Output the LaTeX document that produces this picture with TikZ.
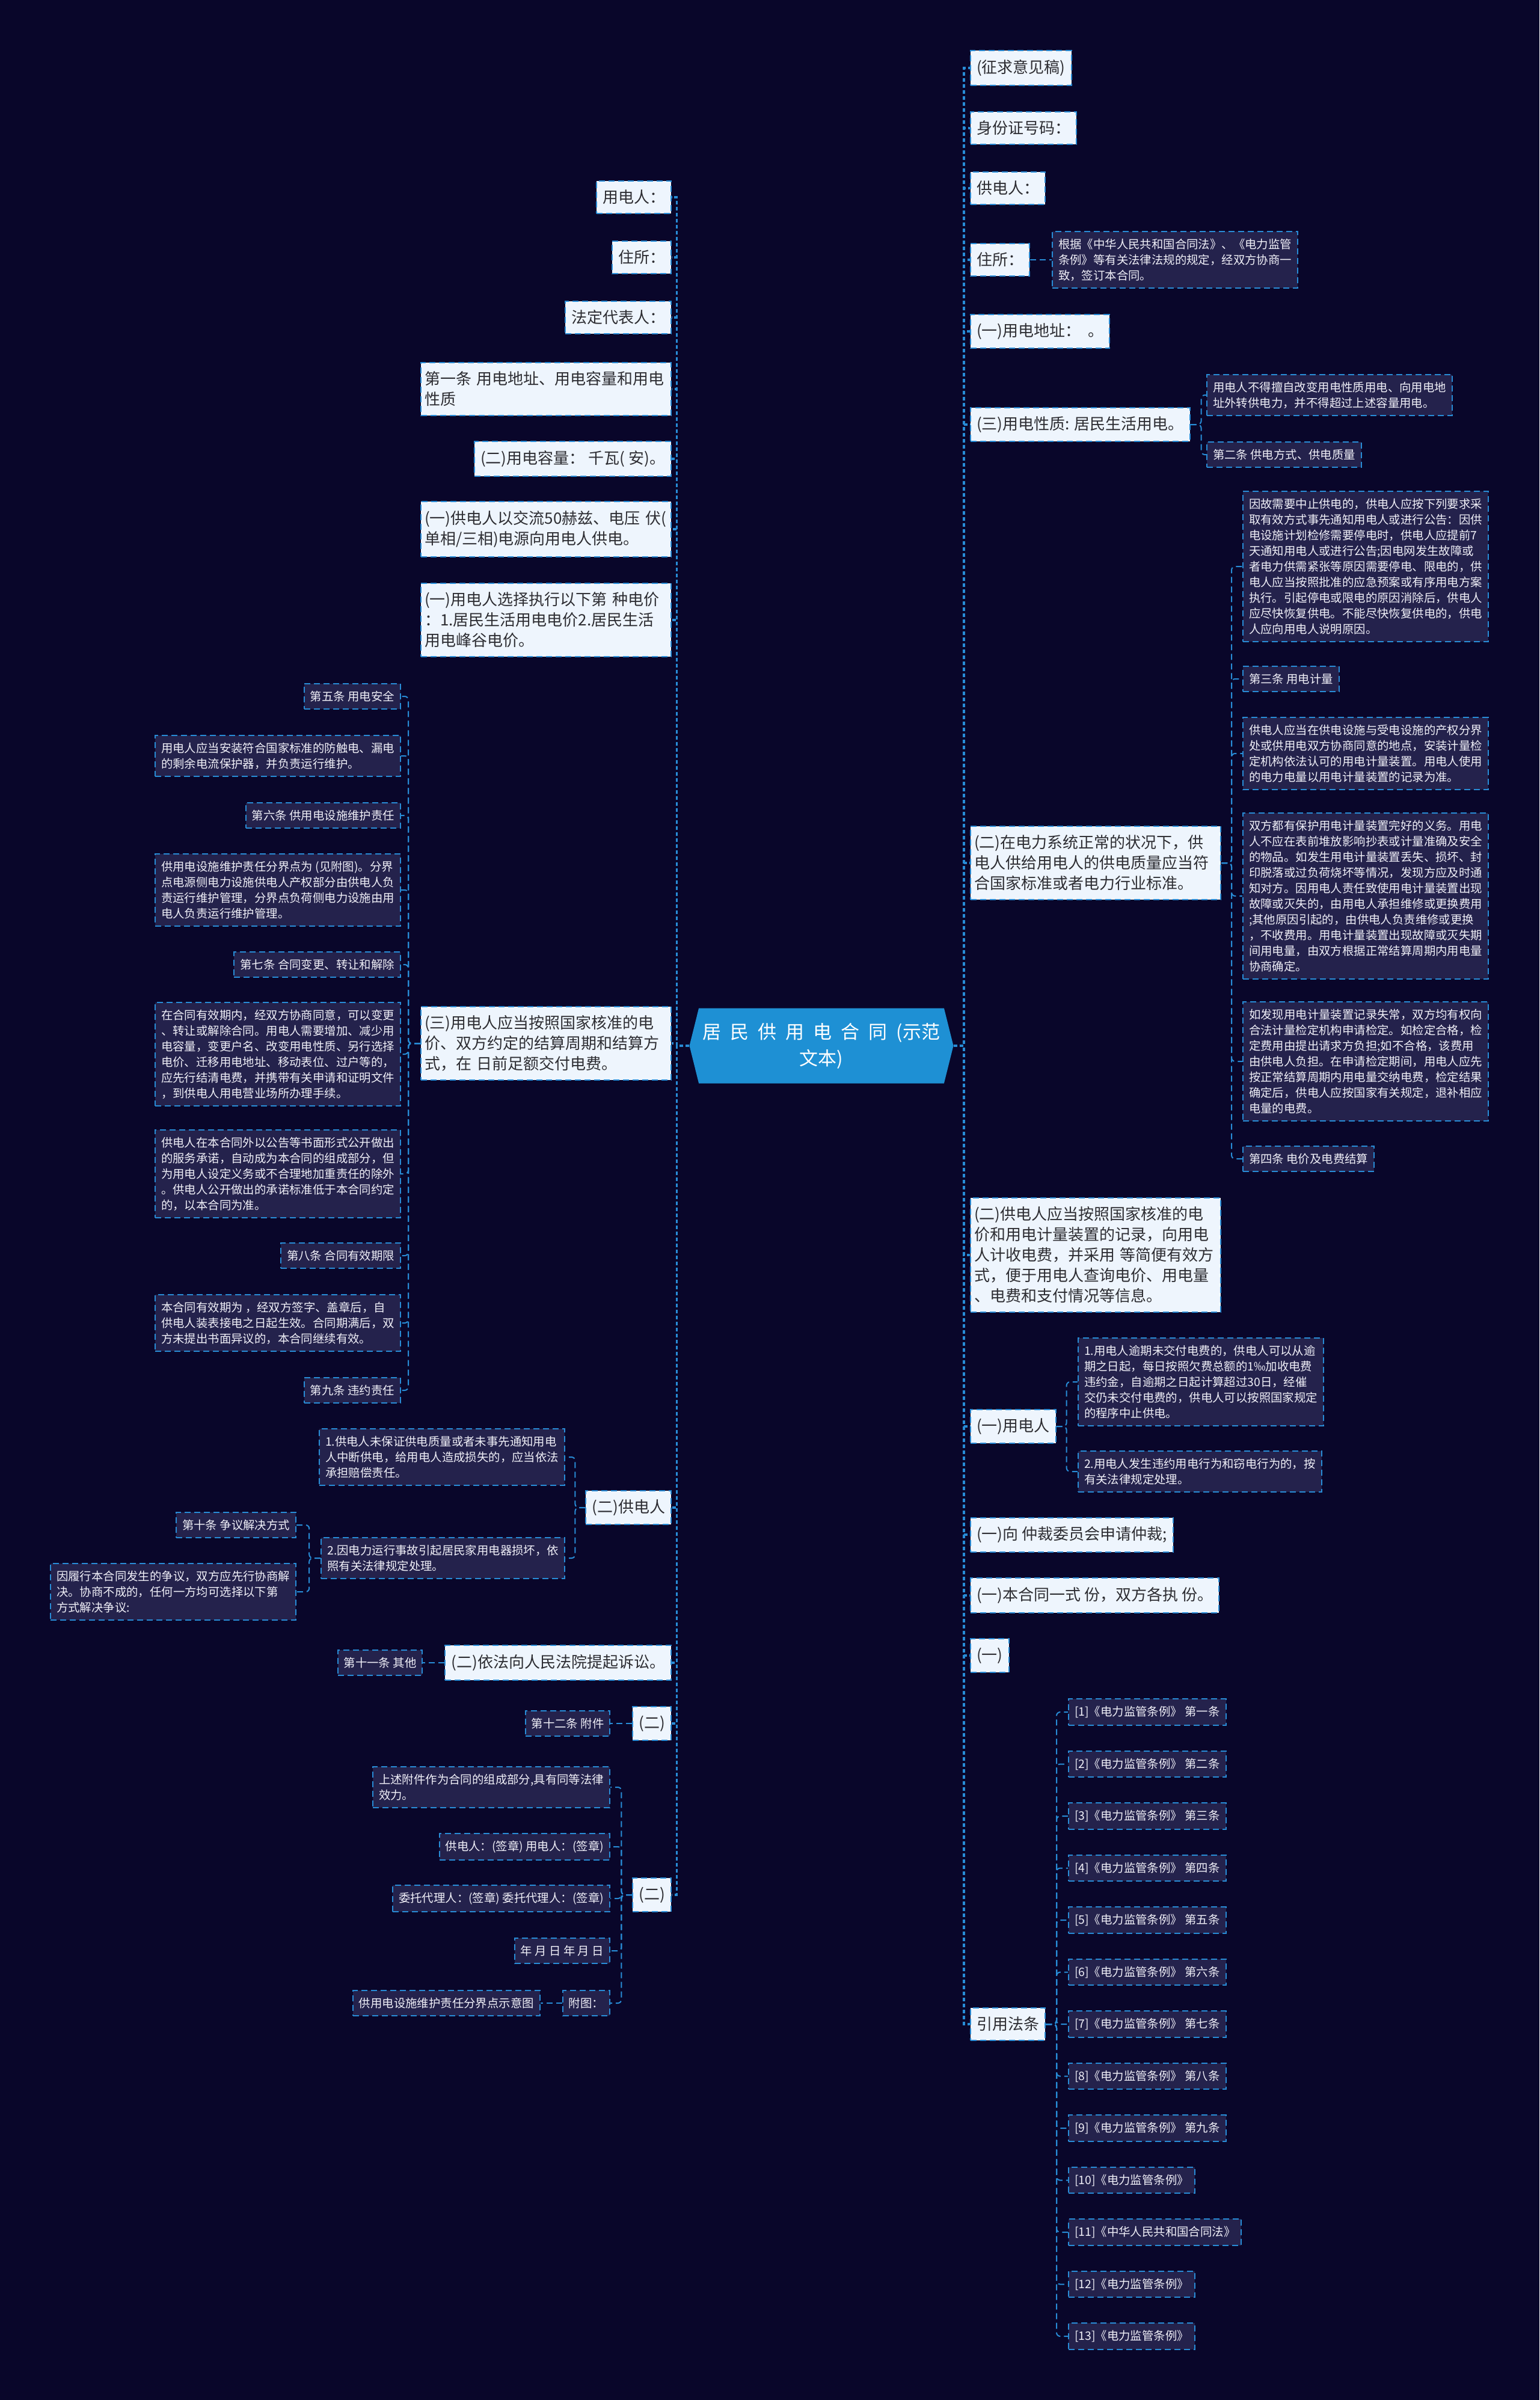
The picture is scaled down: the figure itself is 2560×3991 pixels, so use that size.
\documentclass[tikz,border=0pt]{standalone}
\usepackage{fontspec}
\setmainfont{Noto Sans CJK SC}
\usetikzlibrary{positioning,shapes.symbols}
\definecolor{navybg}{RGB}{9,6,42}
\definecolor{lineblue}{RGB}{40,140,214}
\definecolor{paleblue}{RGB}{238,245,253}
\definecolor{inkgray}{RGB}{45,45,50}
\definecolor{deepcard}{RGB}{36,34,76}
\definecolor{cardwhite}{RGB}{240,240,248}
\definecolor{rootblue}{RGB}{30,144,212}

\begin{document}
\begin{tikzpicture}[x=0.5pt, y=-0.5pt,
    lvone/.style={draw=lineblue, line width=1pt, dash pattern=on 5pt off 3pt, fill=paleblue, text=inkgray, font=\fontsize{13}{17}\selectfont, inner xsep=5pt, inner ysep=7.5pt, align=left},
    lvwide/.style={lvone, text width=202pt, inner xsep=3pt},
    card/.style={draw=lineblue, line width=1pt, dash pattern=on 5pt off 3pt, fill=deepcard, text=cardwhite, font=\fontsize{9.7}{13}\selectfont, inner xsep=5pt, inner ysep=6pt, align=left},
    trunk/.style={lineblue, line width=1.6pt, dash pattern=on 3pt off 2pt},
    twig/.style={lineblue, line width=1pt, dash pattern=on 5pt off 3pt, rounded corners=3pt}]

  \fill[navybg] (0,0) rectangle (2560,3991);
  \useasboundingbox (0,0) rectangle (2560,3991);

  \node[signal, signal to=west and east, signal pointer angle=152, fill=rootblue, text=white, minimum width=212pt, minimum height=62.5pt, align=center, font={\fontsize{15.5}{22}\selectfont\spaceskip=7.5pt plus 1pt\relax}] (root) at (1366,1739) {居 民 供 用 电 合 同 (示范\\文本)};

  % left side
  \node[lvone, anchor=east] (yongdianren) at (1117,328) {用电人：};
  \node[lvone, anchor=east] (zhusuoleft) at (1117,428) {住所：};
  \node[lvone, anchor=east] (fadingren) at (1117,528) {法定代表人：};
  \node[lvwide, anchor=east] (diyitiao) at (1117,647) {第一条 用电地址、用电容量和用电\\性质};
  \node[lvone, anchor=east] (rongliang) at (1117,763) {(二)用电容量：\ 千瓦( 安)。};
  \node[lvwide, anchor=east] (jiaoliu) at (1117,880) {(一)供电人以交流50赫兹、电压 伏(\\单相/三相)电源向用电人供电。};
  \node[lvwide, anchor=east] (dianjia) at (1117,1031) {(一)用电人选择执行以下第 种电价\\：1.居民生活用电电价2.居民生活\\用电峰谷电价。};
  \node[lvwide, anchor=east] (jiaofei) at (1117,1735) {(三)用电人应当按照国家核准的电\\价、双方约定的结算周期和结算方\\式，在 日前足额交付电费。};
  \node[lvone, anchor=east] (gongdianren) at (1117,2507) {(二)供电人};
  \node[lvone, anchor=east] (susong) at (1117,2765) {(二)依法向人民法院提起诉讼。};
  \node[lvone, anchor=east] (erfujian) at (1117,2866) {(二)};
  \node[lvone, anchor=east] (erqianzi) at (1117,3151) {(二)};

  \node[card, anchor=east] (wutiao) at (667,1158) {第五条 用电安全};
  \node[card, anchor=east] (baohuqi) at (667,1257) {用电人应当安装符合国家标准的防触电、漏电\\的剩余电流保护器，并负责运行维护。};
  \node[card, anchor=east] (liutiao) at (667,1356) {第六条 供用电设施维护责任};
  \node[card, anchor=east] (fenjie) at (667,1480) {供用电设施维护责任分界点为 (见附图)。分界\\点电源侧电力设施供电人产权部分由供电人负\\责运行维护管理，分界点负荷侧电力设施由用\\电人负责运行维护管理。};
  \node[card, anchor=east] (qitiao) at (667,1604) {第七条 合同变更、转让和解除};
  \node[card, anchor=east] (biangeng) at (667,1753) {在合同有效期内，经双方协商同意，可以变更\\、转让或解除合同。用电人需要增加、减少用\\电容量，变更户名、改变用电性质、另行选择\\电价、迁移用电地址、移动表位、过户等的，\\应先行结清电费，并携带有关申请和证明文件\\，到供电人用电营业场所办理手续。};
  \node[card, anchor=east] (chengnuo) at (667,1952) {供电人在本合同外以公告等书面形式公开做出\\的服务承诺，自动成为本合同的组成部分，但\\为用电人设定义务或不合理地加重责任的除外\\。供电人公开做出的承诺标准低于本合同约定\\的，以本合同为准。};
  \node[card, anchor=east] (batiao) at (667,2088) {第八条 合同有效期限};
  \node[card, anchor=east] (youxiaoqi) at (667,2200) {本合同有效期为 ，经双方签字、盖章后，自\\供电人装表接电之日起生效。合同期满后，双\\方未提出书面异议的，本合同继续有效。};
  \node[card, anchor=east] (jiutiao) at (667,2312) {第九条 违约责任};

  \node[card, anchor=east] (peichang) at (940,2423) {1.供电人未保证供电质量或者未事先通知用电\\人中断供电，给用电人造成损失的，应当依法\\承担赔偿责任。};
  \node[card, anchor=east] (sunhuai) at (940,2591) {2.因电力运行事故引起居民家用电器损坏，依\\照有关法律规定处理。};
  \node[card, anchor=east] (shitiao) at (493,2536) {第十条 争议解决方式};
  \node[card, anchor=east] (zhengyi) at (493,2647) {因履行本合同发生的争议，双方应先行协商解\\决。协商不成的，任何一方均可选择以下第\\方式解决争议:};
  \node[card, left=18pt of susong] (shiyitiao) {第十一条 其他};
  \node[card, left=18pt of erfujian] (shiertiao) {第十二条 附件};

  \node[card, anchor=east] (xiaoli) at (1015,2972) {上述附件作为合同的组成部分,具有同等法律\\效力。};
  \node[card, anchor=east] (qianzhang) at (1015,3071) {供电人：(签章) 用电人：(签章)};
  \node[card, anchor=east] (daili) at (1015,3157) {委托代理人：(签章) 委托代理人：(签章)};
  \node[card, anchor=east] (riqi) at (1015,3244) {年 月 日 年 月 日};
  \node[card, anchor=east] (futu) at (1015,3331) {附图：};
  \node[card, left=18pt of futu] (shiyitu) {供用电设施维护责任分界点示意图};

  % right side
  \node[lvone, anchor=west] (zhengqiu) at (1613,113) {(征求意见稿)};
  \node[lvone, anchor=west] (shenfen) at (1613,213) {身份证号码：};
  \node[lvone, anchor=west] (gongfang) at (1613,313) {供电人：};
  \node[lvone, anchor=west] (zhusuoright) at (1613,432) {住所：};
  \node[card, right=18pt of zhusuoright] (genju) {根据《中华人民共和国合同法》、《电力监管\\条例》等有关法律法规的规定，经双方协商一\\致，签订本合同。};
  \node[lvone, anchor=west] (dizhi) at (1613,551) {(一)用电地址：\ \ 。};
  \node[lvone, anchor=west] (xingzhi) at (1613,706) {(三)用电性质: 居民生活用电。};
  \node[card, anchor=west] (zhuangong) at (2006,657) {用电人不得擅自改变用电性质用电、向用电地\\址外转供电力，并不得超过上述容量用电。};
  \node[card, anchor=west] (ertiao) at (2006,756) {第二条 供电方式、供电质量};

  \node[lvwide, anchor=west] (zhiliang) at (1613,1435) {(二)在电力系统正常的状况下，供\\电人供给用电人的供电质量应当符\\合国家标准或者电力行业标准。};
  \node[card, anchor=west] (zhongzhi) at (2066,942) {因故需要中止供电的，供电人应按下列要求采\\取有效方式事先通知用电人或进行公告：因供\\电设施计划检修需要停电时，供电人应提前7\\天通知用电人或进行公告;因电网发生故障或\\者电力供需紧张等原因需要停电、限电的，供\\电人应当按照批准的应急预案或有序用电方案\\执行。引起停电或限电的原因消除后，供电人\\应尽快恢复供电。不能尽快恢复供电的，供电\\人应向用电人说明原因。};
  \node[card, anchor=west] (santiao) at (2066,1129) {第三条 用电计量};
  \node[card, anchor=west] (anzhuang) at (2066,1253) {供电人应当在供电设施与受电设施的产权分界\\处或供用电双方协商同意的地点，安装计量检\\定机构依法认可的用电计量装置。用电人使用\\的电力电量以用电计量装置的记录为准。};
  \node[card, anchor=west] (baohu) at (2066,1490) {双方都有保护用电计量装置完好的义务。用电\\人不应在表前堆放影响抄表或计量准确及安全\\的物品。如发生用电计量装置丢失、损坏、封\\印脱落或过负荷烧坏等情况，发现方应及时通\\知对方。因用电人责任致使用电计量装置出现\\故障或灭失的，由用电人承担维修或更换费用\\;其他原因引起的，由供电人负责维修或更换\\，不收费用。用电计量装置出现故障或灭失期\\间用电量，由双方根据正常结算周期内用电量\\协商确定。};
  \node[card, anchor=west] (shichang) at (2066,1765) {如发现用电计量装置记录失常，双方均有权向\\合法计量检定机构申请检定。如检定合格，检\\定费用由提出请求方负担;如不合格，该费用\\由供电人负担。在申请检定期间，用电人应先\\按正常结算周期内用电量交纳电费，检定结果\\确定后，供电人应按国家有关规定，退补相应\\电量的电费。};
  \node[card, anchor=west] (sitiao) at (2066,1927) {第四条 电价及电费结算};

  \node[lvwide, anchor=west] (jifei) at (1613,2087) {(二)供电人应当按照国家核准的电\\价和用电计量装置的记录，向用电\\人计收电费，并采用 等简便有效方\\式，便于用电人查询电价、用电量\\、电费和支付情况等信息。};
  \node[lvone, anchor=west] (yonghu) at (1613,2372) {(一)用电人};
  \node[card, anchor=west] (yuqi) at (1792,2298) {1.用电人逾期未交付电费的，供电人可以从逾\\期之日起，每日按照欠费总额的1‰加收电费\\违约金，自逾期之日起计算超过30日，经催\\交仍未交付电费的，供电人可以按照国家规定\\的程序中止供电。};
  \node[card, anchor=west] (qiedian) at (1792,2447) {2.用电人发生违约用电行为和窃电行为的，按\\有关法律规定处理。};
  \node[lvone, anchor=west] (zhongcai) at (1613,2552) {(一)向 仲裁委员会申请仲裁;};
  \node[lvone, anchor=west] (yishi) at (1613,2653) {(一)本合同一式 份，双方各执 份。};
  \node[lvone, anchor=west] (yikong) at (1613,2753) {(一)};
  \node[lvone, anchor=west] (fatiao) at (1613,3366) {引用法条};

  \foreach \i/\txt in {1/{[1]《电力监管条例》 第一条},2/{[2]《电力监管条例》 第二条},3/{[3]《电力监管条例》 第三条},4/{[4]《电力监管条例》 第四条},5/{[5]《电力监管条例》 第五条},6/{[6]《电力监管条例》 第六条},7/{[7]《电力监管条例》 第七条},8/{[8]《电力监管条例》 第八条},9/{[9]《电力监管条例》 第九条},10/{[10]《电力监管条例》},11/{[11]《中华人民共和国合同法》},12/{[12]《电力监管条例》},13/{[13]《电力监管条例》}} {
    \node[card, anchor=west] (ft\i) at (1776,{2760.5+86.5*\i}) {\txt};
    \draw[twig] (fatiao.east) -- ++(18,0) |- (ft\i.west);
  }

  % connectors
  \foreach \n in {yongdianren,zhusuoleft,fadingren,diyitiao,rongliang,jiaoliu,dianjia,jiaofei,gongdianren,susong,erfujian,erqianzi}
    \draw[trunk] (root.west) -- ++(-21,0) |- (\n.east);
  \foreach \n in {zhengqiu,shenfen,gongfang,zhusuoright,dizhi,xingzhi,zhiliang,jifei,yonghu,zhongcai,yishi,yikong,fatiao}
    \draw[trunk] (root.east) -- ++(17,0) |- (\n.west);

  \foreach \n in {wutiao,baohuqi,liutiao,fenjie,qitiao,biangeng,chengnuo,batiao,youxiaoqi,jiutiao}
    \draw[twig] (jiaofei.west) -- ++(-20,0) |- (\n.east);
  \foreach \n in {peichang,sunhuai}
    \draw[twig] (gongdianren.west) -- ++(-17,0) |- (\n.east);
  \foreach \n in {shitiao,zhengyi}
    \draw[twig] (sunhuai.west) -- ++(-19,0) |- (\n.east);
  \draw[twig] (susong.west) -- (shiyitiao.east);
  \draw[twig] (erfujian.west) -- (shiertiao.east);
  \foreach \n in {xiaoli,qianzhang,daili,riqi,futu}
    \draw[twig] (erqianzi.west) -- ++(-18,0) |- (\n.east);
  \draw[twig] (futu.west) -- (shiyitu.east);

  \draw[twig] (zhusuoright.east) -- (genju.west);
  \foreach \n in {zhuangong,ertiao}
    \draw[twig] (xingzhi.east) -- ++(18,0) |- (\n.west);
  \foreach \n in {zhongzhi,santiao,anzhuang,baohu,shichang,sitiao}
    \draw[twig] (zhiliang.east) -- ++(17,0) |- (\n.west);
  \foreach \n in {yuqi,qiedian}
    \draw[twig] (yonghu.east) -- ++(17,0) |- (\n.west);
\end{tikzpicture}
\end{document}
